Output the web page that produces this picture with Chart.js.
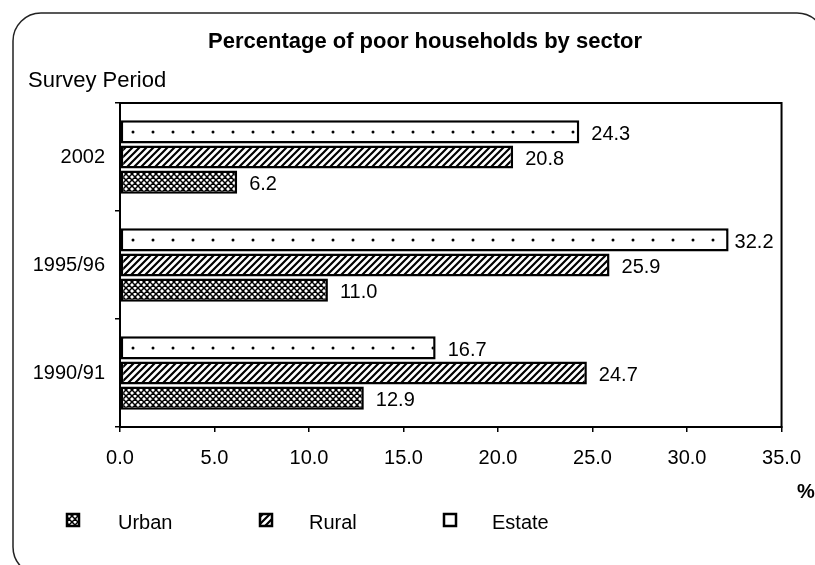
<!DOCTYPE html>
<html>
<head>
<meta charset="utf-8">
<script src="https://cdn.jsdelivr.net/npm/chart.js@4.4.0/dist/chart.umd.min.js"></script>
<style>
  html, body { margin: 0; padding: 0; background: #fff; }
  #wrap { width: 815px; height: 565px; }
</style>
</head>
<body>
<div id="wrap"><canvas id="chart" width="815" height="565"></canvas></div>
<script>
// Données du graphique
const periods = ['2002', '1995/96', '1990/91'];
const estate = [24.3, 32.2, 16.7];
const rural = [20.8, 25.9, 24.7];
const urban = [6.2, 11.0, 12.9];
const xTicks = [0, 5, 10, 15, 20, 25, 30, 35];
const legendOrder = ['Urban', 'Rural', 'Estate'];

const FONT = '"Liberation Sans", Arial, sans-serif';

// Motifs de remplissage (points, hachures, quadrillage)
function makePattern(w, h, draw) {
    const c = document.createElement('canvas');
    c.width = w; c.height = h;
    const g = c.getContext('2d');
    g.fillStyle = '#fff';
    g.fillRect(0, 0, w, h);
    draw(g);
    return document.getElementById('chart').getContext('2d').createPattern(c, 'repeat');
}

// une rangée de points par barre : période verticale = 108 / 3
const dotPattern = makePattern(20, 36, g => {
    g.fillStyle = '#000';
    g.beginPath();
    g.arc(13, 24, 1.5, 0, Math.PI * 2);
    g.fill();
});

const hatchPattern = makePattern(7, 7, g => {
    g.strokeStyle = '#000';
    g.lineWidth = 2.2;
    g.beginPath();
    g.moveTo(-1, 8); g.lineTo(8, -1);
    g.moveTo(-4, 4); g.lineTo(4, -4);
    g.moveTo(3, 11); g.lineTo(11, 3);
    g.stroke();
});

const crossPattern = makePattern(6, 6, g => {
    g.strokeStyle = '#000';
    g.lineWidth = 1.5;
    g.beginPath();
    g.moveTo(0, 6); g.lineTo(6, 0);
    g.moveTo(0, 0); g.lineTo(6, 6);
    g.moveTo(-3, 3); g.lineTo(3, -3);
    g.moveTo(3, 9); g.lineTo(9, 3);
    g.moveTo(-3, 3); g.lineTo(3, 9);
    g.moveTo(3, -3); g.lineTo(9, 3);
    g.stroke();
});

const patterns = { Estate: dotPattern, Rural: hatchPattern, Urban: crossPattern };

// Décor : cadre arrondi, titre, étiquettes, légende, valeurs
const decor = {
    id: 'decor',
    afterDraw(chart) {
        const ctx = chart.ctx;
        const a = chart.chartArea;
        ctx.save();

        // cadre extérieur arrondi
        ctx.strokeStyle = '#222';
        ctx.lineWidth = 1.5;
        ctx.beginPath();
        ctx.roundRect(13, 13, 812, 562, 28);
        ctx.stroke();

        // cadre de la zone de tracé
        ctx.strokeStyle = '#000';
        ctx.lineWidth = 2;
        ctx.strokeRect(a.left, a.top, a.right - a.left, a.bottom - a.top);

        ctx.fillStyle = '#000';
        ctx.textBaseline = 'alphabetic';
        ctx.font = 'bold 22px ' + FONT;
        ctx.textAlign = 'center';
        ctx.fillText('Percentage of poor households by sector', 425, 48);

        ctx.font = '22px ' + FONT;
        ctx.textAlign = 'left';
        ctx.fillText('Survey Period', 28, 87);

        ctx.font = 'bold 20px ' + FONT;
        ctx.fillText('%', 797, 498);

        // valeurs au bout des barres
        ctx.font = '20px ' + FONT;
        ctx.textAlign = 'left';
        chart.data.datasets.forEach((ds, i) => {
            chart.getDatasetMeta(i).data.forEach((bar, j) => {
                const txt = ds.data[j].toFixed(1);
                const w = ctx.measureText(txt).width;
                const x = Math.min(bar.x + 12, a.right - 8 - w);
                ctx.fillText(txt, x, bar.y + 8);
            });
        });

        // légende
        const legendX = { Urban: [67, 118], Rural: [260, 309], Estate: [444, 492] };
        legendOrder.forEach(name => {
            const [bx, tx] = legendX[name];
            ctx.fillStyle = name === 'Estate' ? '#fff' : patterns[name];
            ctx.fillRect(bx, 514, 12, 12);
            ctx.strokeStyle = '#000';
            ctx.lineWidth = 2.5;
            ctx.strokeRect(bx, 514, 12, 12);
            ctx.fillStyle = '#000';
            ctx.fillText(name, tx, 529);
        });

        ctx.restore();
    }
};

const datasets = [
    { label: 'Estate', data: estate },
    { label: 'Rural', data: rural },
    { label: 'Urban', data: urban }
].map(ds => Object.assign(ds, {
    backgroundColor: patterns[ds.label],
    borderColor: '#000',
    borderWidth: 2.5,
    borderSkipped: false,
    categoryPercentage: 0.7,
    barPercentage: 0.92
}));

new Chart(document.getElementById('chart'), {
    type: 'bar',
    data: { labels: periods, datasets: datasets },
    options: {
        indexAxis: 'y',
        responsive: false,
        animation: false,
        layout: { padding: { left: 0, top: 103, right: 33, bottom: 78 } },
        plugins: {
            legend: { display: false },
            tooltip: { enabled: false },
            title: { display: false }
        },
        scales: {
            x: {
                min: 0,
                max: 35,
                afterFit: scale => { scale.height = 60; },
                afterBuildTicks: scale => { scale.ticks = xTicks.map(v => ({ value: v })); },
                grid: { drawOnChartArea: false, color: '#000', tickLength: 5, lineWidth: 1.5 },
                border: { color: '#000', width: 2 },
                ticks: {
                    color: '#000',
                    padding: 14,
                    maxRotation: 0,
                    font: { family: FONT, size: 20 },
                    callback: v => Number(v).toFixed(1)
                }
            },
            y: {
                afterFit: scale => { scale.width = 120; },
                grid: { drawOnChartArea: false, offset: true, color: '#000', tickLength: 5, lineWidth: 1.5 },
                border: { color: '#000', width: 2 },
                ticks: {
                    color: '#000',
                    padding: 10,
                    font: { family: FONT, size: 20 }
                }
            }
        }
    },
    plugins: [decor]
});
</script>
</body>
</html>
